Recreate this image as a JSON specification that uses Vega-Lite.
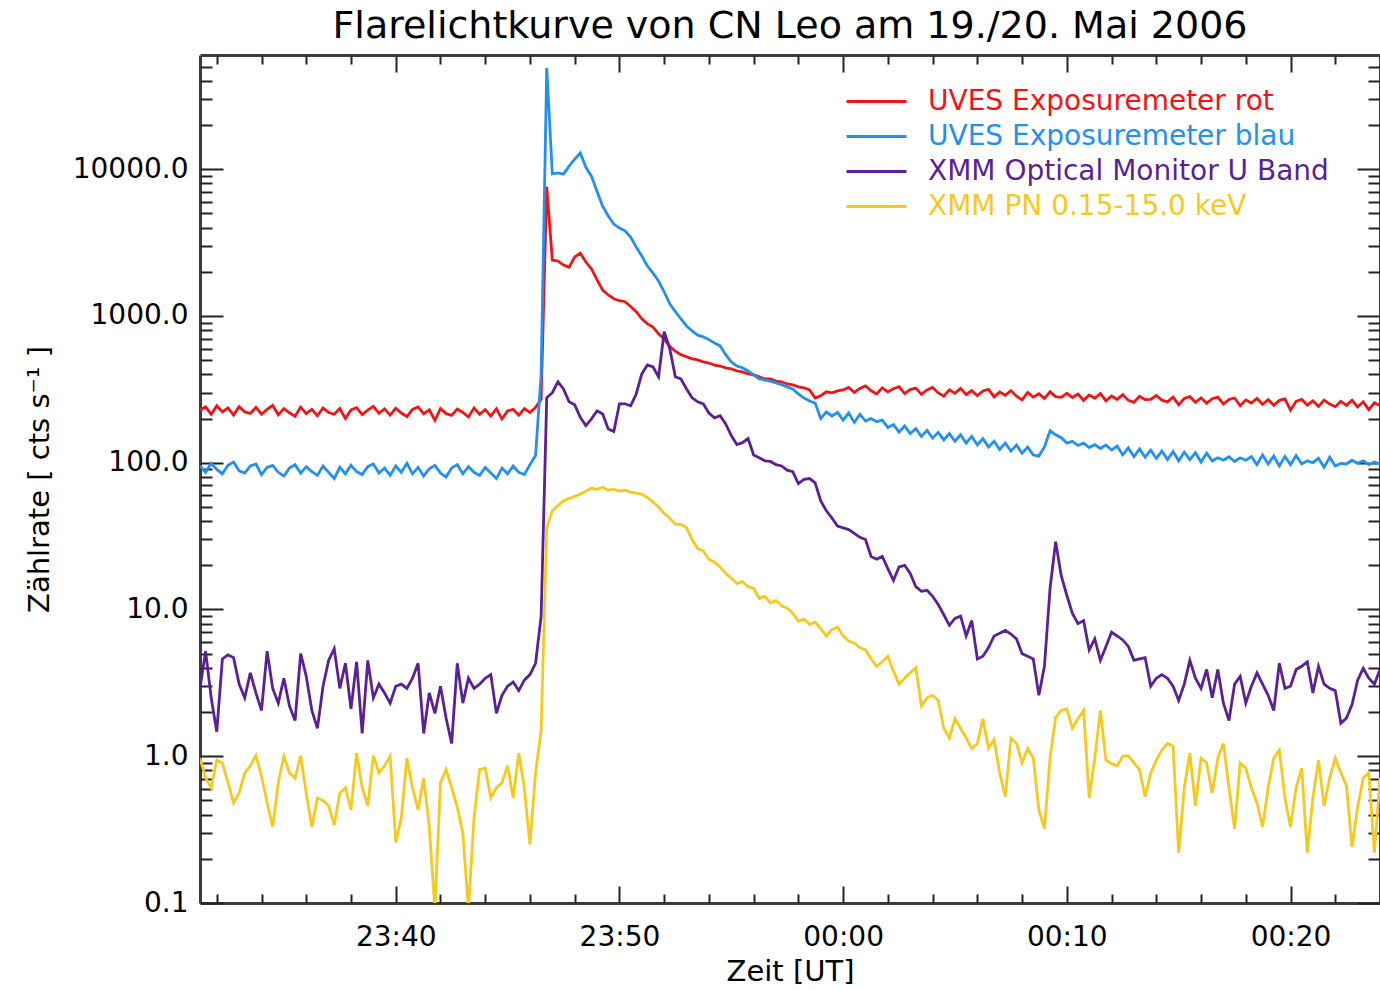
{
  "$schema": "https://vega.github.io/schema/vega-lite/v6.json",
  "width": 1180,
  "height": 848,
  "autosize": {"type": "none"},
  "padding": {"left": 200, "top": 55, "right": 0, "bottom": 87},
  "background": "white",
  "title": {"text": "Flarelichtkurve von CN Leo am 19./20. Mai 2006", "font": "DejaVu Sans", "fontSize": 38, "fontWeight": "normal", "color": "black", "anchor": "middle", "frame": "group", "offset": 8},
  "config": {"view": {"stroke": null}, "font": "DejaVu Sans", "axis": {"grid": false}},
  "datasets": {
    "ax": [{"t": 0, "v": 1}],
    "lc": [
      {"t":-28.75,"r":228,"b":95,"u":2.9,"p":0.97},
      {"t":-28.5,"r":240,"b":86,"u":5.2,"p":0.71},
      {"t":-28.25,"r":214,"b":99,"u":2.5,"p":0.61},
      {"t":-28,"r":244,"b":90,"u":1.47,"p":0.94},
      {"t":-27.75,"r":222,"b":84,"u":4.6,"p":0.9},
      {"t":-27.5,"r":236,"b":96,"u":4.9,"p":0.66},
      {"t":-27.25,"r":211,"b":101,"u":4.7,"p":0.48},
      {"t":-27,"r":241,"b":88,"u":3.1,"p":0.56},
      {"t":-26.75,"r":222,"b":85,"u":2.5,"p":0.77},
      {"t":-26.5,"r":217,"b":95,"u":3.7,"p":0.86},
      {"t":-26.25,"r":238,"b":98,"u":2.7,"p":1.01},
      {"t":-26,"r":214,"b":83,"u":2.05,"p":0.73},
      {"t":-25.75,"r":231,"b":93,"u":5.2,"p":0.48},
      {"t":-25.5,"r":246,"b":96,"u":2.9,"p":0.33},
      {"t":-25.25,"r":212,"b":86,"u":2.3,"p":0.66},
      {"t":-25,"r":234,"b":81,"u":3.4,"p":1.0},
      {"t":-24.75,"r":219,"b":92,"u":2.2,"p":0.77},
      {"t":-24.5,"r":207,"b":97,"u":1.75,"p":0.71},
      {"t":-24.25,"r":239,"b":85,"u":5.0,"p":1.01},
      {"t":-24,"r":216,"b":94,"u":3.5,"p":0.56},
      {"t":-23.75,"r":231,"b":87,"u":2.05,"p":0.33},
      {"t":-23.5,"r":209,"b":82,"u":1.55,"p":0.52},
      {"t":-23.25,"r":236,"b":95,"u":3.0,"p":0.5},
      {"t":-23,"r":220,"b":86,"u":4.5,"p":0.46},
      {"t":-22.75,"r":214,"b":78,"u":5.4,"p":0.34},
      {"t":-22.5,"r":234,"b":93,"u":2.9,"p":0.56},
      {"t":-22.25,"r":200,"b":84,"u":4.3,"p":0.61},
      {"t":-22,"r":229,"b":96,"u":2.1,"p":0.43},
      {"t":-21.75,"r":237,"b":87,"u":4.4,"p":1.05},
      {"t":-21.5,"r":213,"b":83,"u":1.43,"p":0.61},
      {"t":-21.25,"r":228,"b":94,"u":4.5,"p":0.46},
      {"t":-21,"r":242,"b":98,"u":2.5,"p":1.01},
      {"t":-20.75,"r":217,"b":85,"u":3.1,"p":0.77},
      {"t":-20.5,"r":233,"b":92,"u":2.7,"p":0.86},
      {"t":-20.25,"r":211,"b":82,"u":2.3,"p":1.0},
      {"t":-20,"r":235,"b":95,"u":3.0,"p":0.26},
      {"t":-19.75,"r":218,"b":86,"u":3.1,"p":0.38},
      {"t":-19.5,"r":206,"b":99,"u":2.9,"p":0.97},
      {"t":-19.25,"r":231,"b":84,"u":3.4,"p":0.61},
      {"t":-19,"r":240,"b":93,"u":4.3,"p":0.43},
      {"t":-18.75,"r":215,"b":81,"u":1.43,"p":0.71},
      {"t":-18.5,"r":229,"b":91,"u":2.7,"p":0.33},
      {"t":-18.25,"r":194,"b":96,"u":1.96,"p":0.09},
      {"t":-18,"r":234,"b":85,"u":3.0,"p":0.66},
      {"t":-17.75,"r":216,"b":80,"u":1.82,"p":0.81},
      {"t":-17.5,"r":210,"b":92,"u":1.22,"p":0.61},
      {"t":-17.25,"r":232,"b":97,"u":4.3,"p":0.45},
      {"t":-17,"r":220,"b":84,"u":2.3,"p":0.3},
      {"t":-16.75,"r":205,"b":94,"u":3.4,"p":0.09},
      {"t":-16.5,"r":236,"b":86,"u":2.9,"p":0.38},
      {"t":-16.25,"r":214,"b":82,"u":3.1,"p":0.81},
      {"t":-16,"r":230,"b":93,"u":3.4,"p":0.83},
      {"t":-15.75,"r":208,"b":85,"u":3.6,"p":0.52},
      {"t":-15.5,"r":233,"b":78,"u":1.96,"p":0.61},
      {"t":-15.25,"r":199,"b":92,"u":2.6,"p":0.66},
      {"t":-15,"r":225,"b":84,"u":3.0,"p":0.86},
      {"t":-14.75,"r":231,"b":95,"u":3.2,"p":0.52},
      {"t":-14.5,"r":211,"b":86,"u":2.8,"p":1.05},
      {"t":-14.25,"r":234,"b":83,"u":3.3,"p":0.61},
      {"t":-14,"r":220,"b":97,"u":3.6,"p":0.25},
      {"t":-13.75,"r":238,"b":112,"u":4.3,"p":0.77},
      {"t":-13.5,"r":270,"b":400,"u":9,"p":1.5},
      {"t":-13.25,"r":7600,"b":49000,"u":277,"p":36},
      {"t":-13,"r":2400,"b":9300,"u":300,"p":47},
      {"t":-12.75,"r":2370,"b":9450,"u":356,"p":51},
      {"t":-12.5,"r":2220,"b":9250,"u":318,"p":55},
      {"t":-12.25,"r":2150,"b":10500,"u":260,"p":57},
      {"t":-12,"r":2520,"b":11700,"u":248,"p":59},
      {"t":-11.75,"r":2680,"b":12900,"u":204,"p":61},
      {"t":-11.5,"r":2330,"b":10300,"u":179,"p":64},
      {"t":-11.25,"r":2090,"b":8960,"u":199,"p":67},
      {"t":-11,"r":1760,"b":7050,"u":226,"p":66},
      {"t":-10.75,"r":1500,"b":5600,"u":215,"p":68},
      {"t":-10.5,"r":1390,"b":4800,"u":170,"p":65},
      {"t":-10.25,"r":1310,"b":4230,"u":163,"p":66},
      {"t":-10,"r":1270,"b":3970,"u":252,"p":64},
      {"t":-9.75,"r":1250,"b":3800,"u":252,"p":65},
      {"t":-9.5,"r":1160,"b":3450,"u":244,"p":63},
      {"t":-9.25,"r":1070,"b":2950,"u":294,"p":62},
      {"t":-9,"r":955,"b":2560,"u":403,"p":61},
      {"t":-8.75,"r":883,"b":2190,"u":463,"p":58},
      {"t":-8.5,"r":840,"b":1960,"u":449,"p":54},
      {"t":-8.25,"r":755,"b":1730,"u":385,"p":50},
      {"t":-8,"r":698,"b":1460,"u":780,"p":45},
      {"t":-7.75,"r":620,"b":1210,"u":597,"p":42},
      {"t":-7.5,"r":575,"b":1070,"u":385,"p":38},
      {"t":-7.25,"r":545,"b":955,"u":372,"p":38},
      {"t":-7,"r":527,"b":855,"u":318,"p":36},
      {"t":-6.75,"r":510,"b":790,"u":277,"p":30},
      {"t":-6.5,"r":502,"b":740,"u":260,"p":26},
      {"t":-6.25,"r":486,"b":720,"u":252,"p":25},
      {"t":-6,"r":478,"b":690,"u":218,"p":22},
      {"t":-5.75,"r":463,"b":655,"u":202,"p":21},
      {"t":-5.5,"r":456,"b":625,"u":209,"p":19.5},
      {"t":-5.25,"r":443,"b":545,"u":184,"p":17.6},
      {"t":-5,"r":436,"b":486,"u":153,"p":16.3},
      {"t":-4.75,"r":422,"b":456,"u":133,"p":15},
      {"t":-4.5,"r":416,"b":443,"u":137,"p":15.5},
      {"t":-4.25,"r":403,"b":422,"u":146,"p":14.3},
      {"t":-4,"r":397,"b":397,"u":113,"p":13.9},
      {"t":-3.75,"r":385,"b":372,"u":108,"p":11.9},
      {"t":-3.5,"r":372,"b":366,"u":103,"p":12.3},
      {"t":-3.25,"r":372,"b":360,"u":102,"p":11.1},
      {"t":-3,"r":360,"b":350,"u":97,"p":11.5},
      {"t":-2.75,"r":356,"b":340,"u":95,"p":10.6},
      {"t":-2.5,"r":344,"b":329,"u":89,"p":10.2},
      {"t":-2.25,"r":339,"b":318,"u":87,"p":9.4},
      {"t":-2,"r":329,"b":294,"u":72,"p":8.3},
      {"t":-1.75,"r":324,"b":276,"u":77,"p":8.6},
      {"t":-1.5,"r":313,"b":263,"u":78,"p":7.9},
      {"t":-1.25,"r":276,"b":255,"u":73,"p":8.2},
      {"t":-1,"r":286,"b":200,"u":55,"p":7.4},
      {"t":-0.75,"r":304,"b":222,"u":47,"p":6.6},
      {"t":-0.5,"r":299,"b":208,"u":42,"p":7.3},
      {"t":-0.25,"r":309,"b":220,"u":37,"p":7.6},
      {"t":0,"r":313,"b":195,"u":36,"p":6.6},
      {"t":0.25,"r":326,"b":218,"u":35,"p":6.1},
      {"t":0.5,"r":301,"b":188,"u":33,"p":5.9},
      {"t":0.75,"r":321,"b":214,"u":31,"p":5.5},
      {"t":1,"r":334,"b":192,"u":30,"p":5.3},
      {"t":1.25,"r":309,"b":200,"u":23,"p":4.6},
      {"t":1.5,"r":294,"b":190,"u":22,"p":4.1},
      {"t":1.75,"r":324,"b":195,"u":23,"p":4.4},
      {"t":2,"r":304,"b":174,"u":19,"p":4.8},
      {"t":2.25,"r":319,"b":182,"u":15.8,"p":3.8},
      {"t":2.5,"r":330,"b":162,"u":19.5,"p":3.1},
      {"t":2.75,"r":296,"b":178,"u":20,"p":3.4},
      {"t":3,"r":315,"b":158,"u":17.6,"p":3.7},
      {"t":3.25,"r":322,"b":171,"u":14.3,"p":4.0},
      {"t":3.5,"r":292,"b":151,"u":13.3,"p":2.2},
      {"t":3.75,"r":313,"b":166,"u":13.5,"p":2.5},
      {"t":4,"r":326,"b":147,"u":12.3,"p":2.6},
      {"t":4.25,"r":299,"b":161,"u":10.8,"p":2.4},
      {"t":4.5,"r":284,"b":143,"u":9.2,"p":1.55},
      {"t":4.75,"r":314,"b":158,"u":7.8,"p":1.33},
      {"t":5,"r":297,"b":140,"u":8.7,"p":1.8},
      {"t":5.25,"r":321,"b":155,"u":9.0,"p":1.55},
      {"t":5.5,"r":291,"b":136,"u":6.6,"p":1.33},
      {"t":5.75,"r":310,"b":151,"u":8.4,"p":1.13},
      {"t":6,"r":286,"b":132,"u":4.6,"p":1.22},
      {"t":6.25,"r":308,"b":146,"u":4.8,"p":1.8},
      {"t":6.5,"r":316,"b":128,"u":5.5,"p":1.13},
      {"t":6.75,"r":281,"b":140,"u":6.6,"p":1.3},
      {"t":7,"r":303,"b":123,"u":6.9,"p":0.77},
      {"t":7.25,"r":288,"b":136,"u":7.2,"p":0.53},
      {"t":7.5,"r":310,"b":120,"u":6.8,"p":1.33},
      {"t":7.75,"r":284,"b":132,"u":6.3,"p":1.22},
      {"t":8,"r":268,"b":116,"u":5.0,"p":0.9},
      {"t":8.25,"r":301,"b":128,"u":4.8,"p":1.13},
      {"t":8.5,"r":280,"b":113,"u":4.6,"p":0.97},
      {"t":8.75,"r":295,"b":111,"u":2.6,"p":0.43},
      {"t":9,"r":274,"b":128,"u":4.1,"p":0.32},
      {"t":9.25,"r":304,"b":165,"u":13.9,"p":0.97},
      {"t":9.5,"r":282,"b":155,"u":29,"p":1.84},
      {"t":9.75,"r":279,"b":148,"u":17,"p":2.05},
      {"t":10,"r":297,"b":136,"u":12.5,"p":2.1},
      {"t":10.25,"r":278,"b":140,"u":9.4,"p":1.55},
      {"t":10.5,"r":294,"b":131,"u":8.0,"p":1.8},
      {"t":10.75,"r":266,"b":136,"u":8.4,"p":2.05},
      {"t":11,"r":289,"b":127,"u":5.3,"p":0.52},
      {"t":11.25,"r":275,"b":133,"u":6.3,"p":0.97},
      {"t":11.5,"r":296,"b":125,"u":4.5,"p":2.05},
      {"t":11.75,"r":264,"b":132,"u":5.6,"p":0.94},
      {"t":12,"r":285,"b":122,"u":7.0,"p":0.89},
      {"t":12.25,"r":270,"b":130,"u":6.6,"p":0.86},
      {"t":12.5,"r":291,"b":113,"u":6.2,"p":1.0},
      {"t":12.75,"r":266,"b":126,"u":5.6,"p":1.01},
      {"t":13,"r":258,"b":110,"u":4.5,"p":0.9},
      {"t":13.25,"r":284,"b":124,"u":4.6,"p":0.81},
      {"t":13.5,"r":269,"b":109,"u":4.7,"p":0.53},
      {"t":13.75,"r":270,"b":122,"u":3.0,"p":0.77},
      {"t":14,"r":287,"b":107,"u":3.4,"p":0.94},
      {"t":14.25,"r":267,"b":120,"u":3.6,"p":1.1},
      {"t":14.5,"r":260,"b":105,"u":3.4,"p":1.22},
      {"t":14.75,"r":280,"b":119,"u":3.0,"p":1.17},
      {"t":15,"r":248,"b":103,"u":2.4,"p":0.22},
      {"t":15.25,"r":274,"b":118,"u":3.1,"p":0.61},
      {"t":15.5,"r":282,"b":105,"u":4.5,"p":1.05},
      {"t":15.75,"r":258,"b":117,"u":3.4,"p":0.46},
      {"t":16,"r":277,"b":101,"u":2.9,"p":0.97},
      {"t":16.25,"r":254,"b":116,"u":3.9,"p":0.9},
      {"t":16.5,"r":273,"b":103,"u":2.5,"p":0.56},
      {"t":16.75,"r":280,"b":108,"u":3.9,"p":0.97},
      {"t":17,"r":251,"b":104,"u":2.3,"p":1.22},
      {"t":17.25,"r":270,"b":110,"u":1.75,"p":0.61},
      {"t":17.5,"r":276,"b":102,"u":3.1,"p":0.32},
      {"t":17.75,"r":244,"b":108,"u":3.5,"p":0.9},
      {"t":18,"r":268,"b":104,"u":2.3,"p":0.83},
      {"t":18.25,"r":255,"b":110,"u":3.0,"p":0.61},
      {"t":18.5,"r":274,"b":97,"u":3.7,"p":0.48},
      {"t":18.75,"r":250,"b":113,"u":3.1,"p":0.33},
      {"t":19,"r":269,"b":98,"u":2.6,"p":0.61},
      {"t":19.25,"r":246,"b":111,"u":2.05,"p":0.97},
      {"t":19.5,"r":266,"b":95,"u":4.3,"p":1.1},
      {"t":19.75,"r":272,"b":110,"u":2.9,"p":0.52},
      {"t":20,"r":228,"b":97,"u":3.0,"p":0.33},
      {"t":20.25,"r":262,"b":112,"u":3.9,"p":0.61},
      {"t":20.5,"r":270,"b":98,"u":4.1,"p":0.83},
      {"t":20.75,"r":247,"b":103,"u":4.4,"p":0.22},
      {"t":21,"r":264,"b":100,"u":2.7,"p":0.52},
      {"t":21.25,"r":242,"b":107,"u":4.1,"p":0.94},
      {"t":21.5,"r":267,"b":93,"u":3.1,"p":0.46},
      {"t":21.75,"r":251,"b":109,"u":2.9,"p":0.71},
      {"t":22,"r":241,"b":95,"u":2.8,"p":0.97},
      {"t":22.25,"r":262,"b":99,"u":1.68,"p":0.77},
      {"t":22.5,"r":246,"b":98,"u":1.82,"p":0.63},
      {"t":22.75,"r":266,"b":104,"u":2.25,"p":0.24},
      {"t":23,"r":240,"b":99,"u":3.3,"p":0.45},
      {"t":23.25,"r":260,"b":103,"u":3.97,"p":0.71},
      {"t":23.5,"r":230,"b":97,"u":3.4,"p":0.77},
      {"t":23.75,"r":256,"b":101,"u":3.1,"p":0.22},
      {"t":24,"r":245,"b":98,"u":3.9,"p":0.71}
    ]
  },
  "layer": [
    {
      "data": {"name": "lc"},
      "transform": [{"fold": ["r", "b", "u", "p"], "as": ["s", "v"]}],
      "mark": {"type": "line", "clip": true},
      "encoding": {
        "x": {"field": "t", "type": "quantitative", "scale": {"domain": [-28.75, 24], "nice": false, "zero": false},
          "axis": {"orient": "bottom", "values": [-20, -10, 0, 10, 20], "labelExpr": "datum.value == -20 ? '23:40' : datum.value == -10 ? '23:50' : datum.value == 0 ? '00:00' : datum.value == 10 ? '00:10' : '00:20'", "ticks": false, "domain": true, "domainColor": "#3c3c3c", "domainWidth": 3, "labelFont": "DejaVu Sans", "labelFontSize": 28, "labelColor": "black", "labelPadding": 20, "title": "Zeit [UT]", "titleFont": "DejaVu Sans", "titleFontSize": 29, "titleFontWeight": "normal", "titleColor": "black", "titlePadding": 6, "grid": false}},
        "y": {"field": "v", "type": "quantitative", "scale": {"type": "log", "domain": [0.1, 60000], "nice": false},
          "axis": {"orient": "left", "values": [0.1, 1, 10, 100, 1000, 10000], "format": ".1f", "ticks": false, "domain": true, "domainColor": "#3c3c3c", "domainWidth": 3, "labelFont": "DejaVu Sans", "labelFontSize": 28, "labelColor": "black", "labelPadding": 12, "title": "Zählrate [ cts s⁻¹ ]", "titleFont": "DejaVu Sans", "titleFontSize": 29, "titleFontWeight": "normal", "titleColor": "black", "titlePadding": 18, "grid": false}},
        "strokeWidth": {"field": "s", "type": "nominal", "scale": {"domain": ["r", "b", "u", "p"], "range": [2.8, 2.8, 2.1, 2.1]}, "legend": null},
        "color": {"field": "s", "type": "nominal",
          "scale": {"domain": ["r", "b", "u", "p"], "range": ["#f01414", "#2390f0", "#5b1f96", "#f7c81e"]},
          "legend": {"orient": "none", "legendX": 660, "legendY": 30, "title": null, "padding": 0, "symbolType": "M-2,0H2", "symbolSize": 900, "symbolStrokeWidth": 2, "labelFont": "DejaVu Sans", "labelFontSize": 28, "labelOffset": 35, "labelLimit": 700, "rowPadding": 4,
            "labelExpr": "datum.value == 'r' ? 'UVES Exposuremeter rot' : datum.value == 'b' ? 'UVES Exposuremeter blau' : datum.value == 'u' ? 'XMM Optical Monitor U Band' : 'XMM PN 0.15-15.0 keV'",
            "encode": {"labels": {"update": {"fill": {"signal": "scale('color', datum.value)"}}}}}}
      }
    },
    {
      "data": {"name": "ax"},
      "mark": {"type": "point", "opacity": 0},
      "encoding": {
        "x": {"field": "t", "type": "quantitative", "scale": {"domain": [-28.75, 24], "nice": false, "zero": false},
          "axis": {"orient": "bottom", "values": [-20, -10, 0, 10, 20], "labels": false, "domain": false, "ticks": true, "tickSize": -17, "tickWidth": 2, "tickColor": "#222222", "title": null, "grid": false}},
        "y": {"field": "v", "type": "quantitative", "scale": {"type": "log", "domain": [0.1, 60000], "nice": false},
          "axis": {"orient": "left", "values": [0.1, 1, 10, 100, 1000, 10000], "labels": false, "domain": false, "ticks": true, "tickSize": -23, "tickWidth": 2, "tickColor": "#222222", "title": null, "grid": false}}
      }
    },
    {
      "data": {"name": "ax"},
      "mark": {"type": "point", "opacity": 0},
      "encoding": {
        "x": {"field": "t", "type": "quantitative", "scale": {"domain": [-28.75, 24], "nice": false, "zero": false},
          "axis": {"orient": "bottom", "values": [-28, -26, -24, -22, -18, -16, -14, -12, -8, -6, -4, -2, 2, 4, 6, 8, 12, 14, 16, 18, 22], "labels": false, "domain": false, "ticks": true, "tickSize": -9, "tickWidth": 2, "tickColor": "#222222", "title": null, "grid": false}},
        "y": {"field": "v", "type": "quantitative", "scale": {"type": "log", "domain": [0.1, 60000], "nice": false},
          "axis": {"orient": "left", "values": [0.2, 0.3, 0.4, 0.5, 0.6, 0.7, 0.8, 0.9, 2, 3, 4, 5, 6, 7, 8, 9, 20, 30, 40, 50, 60, 70, 80, 90, 200, 300, 400, 500, 600, 700, 800, 900, 2000, 3000, 4000, 5000, 6000, 7000, 8000, 9000, 20000, 30000, 40000, 50000], "labels": false, "domain": false, "ticks": true, "tickSize": -12, "tickWidth": 2, "tickColor": "#222222", "title": null, "grid": false}}
      }
    },
    {
      "data": {"name": "ax"},
      "mark": {"type": "point", "opacity": 0},
      "encoding": {
        "x": {"field": "t", "type": "quantitative", "scale": {"domain": [-28.75, 24], "nice": false, "zero": false},
          "axis": {"orient": "top", "values": [-20, -10, 0, 10, 20], "labels": false, "domain": true, "domainColor": "#3c3c3c", "domainWidth": 3, "ticks": true, "tickSize": -17, "tickWidth": 2, "tickColor": "#222222", "title": null, "grid": false}},
        "y": {"field": "v", "type": "quantitative", "scale": {"type": "log", "domain": [0.1, 60000], "nice": false},
          "axis": {"orient": "right", "values": [0.1, 1, 10, 100, 1000, 10000], "labels": false, "domain": true, "domainColor": "#3c3c3c", "domainWidth": 3, "ticks": true, "tickSize": -23, "tickWidth": 2, "tickColor": "#222222", "title": null, "grid": false}}
      }
    },
    {
      "data": {"name": "ax"},
      "mark": {"type": "point", "opacity": 0},
      "encoding": {
        "x": {"field": "t", "type": "quantitative", "scale": {"domain": [-28.75, 24], "nice": false, "zero": false},
          "axis": {"orient": "top", "values": [-28, -26, -24, -22, -18, -16, -14, -12, -8, -6, -4, -2, 2, 4, 6, 8, 12, 14, 16, 18, 22], "labels": false, "domain": false, "ticks": true, "tickSize": -9, "tickWidth": 2, "tickColor": "#222222", "title": null, "grid": false}},
        "y": {"field": "v", "type": "quantitative", "scale": {"type": "log", "domain": [0.1, 60000], "nice": false},
          "axis": {"orient": "right", "values": [0.2, 0.3, 0.4, 0.5, 0.6, 0.7, 0.8, 0.9, 2, 3, 4, 5, 6, 7, 8, 9, 20, 30, 40, 50, 60, 70, 80, 90, 200, 300, 400, 500, 600, 700, 800, 900, 2000, 3000, 4000, 5000, 6000, 7000, 8000, 9000, 20000, 30000, 40000, 50000], "labels": false, "domain": false, "ticks": true, "tickSize": -12, "tickWidth": 2, "tickColor": "#222222", "title": null, "grid": false}}
      }
    }
  ],
  "resolve": {"axis": {"x": "independent", "y": "independent"}}
}
